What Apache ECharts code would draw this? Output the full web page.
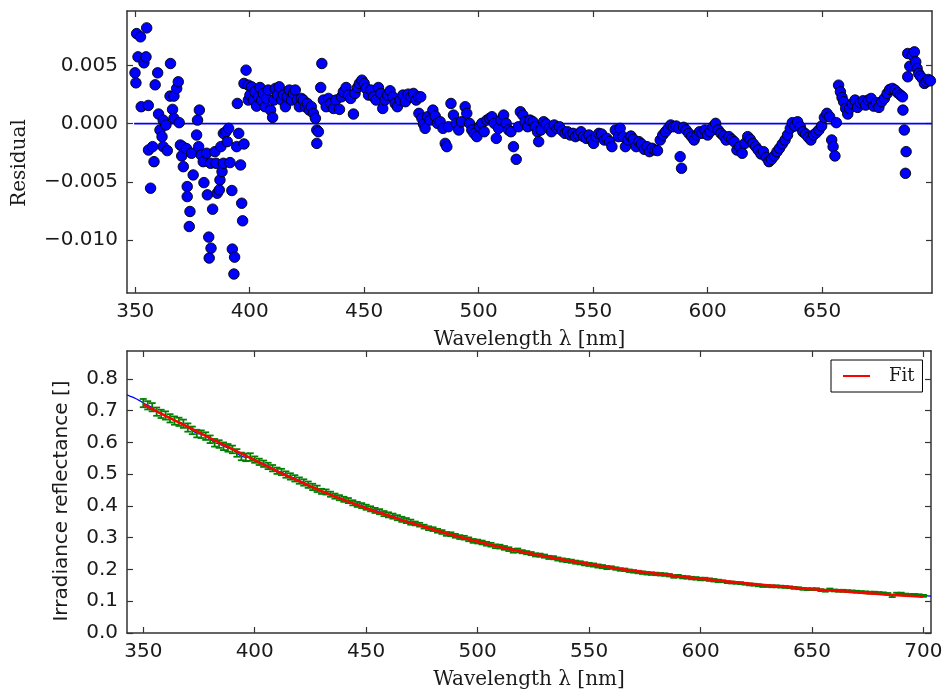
<!DOCTYPE html>
<html>
<head>
<meta charset="utf-8">
<script src="https://cdn.jsdelivr.net/npm/echarts@6/dist/echarts.min.js"></script>
<style>
html, body { margin: 0; padding: 0; background: #fff; }
#chart { width: 946px; height: 692px; }
</style>
</head>
<body>
<div id="chart"></div>
<script>
// top panel: residual of the fit, [wavelength nm, residual]
const residuals = [
    [349.9, 0.00437], [350.3, 0.00351], [350.6, 0.00774], [351.2, 0.00574], [352.3, 0.00746], [352.6, 0.00146],
    [353.8, 0.00523], [354.7, 0.00574], [355.0, 0.00823], [355.7, 0.00157], [355.8, -0.00226], [356.7, -0.00554],
    [357.6, -0.00197], [358.2, -0.00326], [358.7, 0.00334], [359.8, 0.00437], [360.2, 0.00083], [360.8, -0.00054],
    [361.7, -0.00111], [362.2, -0.00197], [362.2, 0.00031], [363.4, -0.00011], [364.0, -0.00231], [365.2, 0.00237],
    [365.4, 0.00517], [366.3, 0.00123], [366.9, 0.00237], [366.9, 0.00046], [368.1, 0.00303], [368.8, 0.0036],
    [369.2, 0.00009], [369.7, -0.00183], [370.3, -0.00277], [370.7, -0.00197], [371.0, -0.00369], [372.4, -0.00214],
    [372.7, -0.0054], [372.7, -0.00626], [373.6, -0.00883], [373.9, -0.00754], [374.6, -0.00254], [375.3, -0.0044],
    [376.8, -0.00097], [377.2, 0.00031], [377.7, -0.00197], [378.0, 0.00117], [378.8, -0.00269], [379.7, -0.00326],
    [380.0, -0.00506], [381.2, -0.00254], [381.5, -0.00611], [382.1, -0.00974], [382.3, -0.01154], [382.9, -0.0034],
    [383.1, -0.01069], [383.8, -0.00734], [384.8, -0.0024], [385.3, -0.0034], [385.8, -0.00597], [386.7, -0.00569],
    [387.0, -0.00483], [387.4, -0.00197], [387.9, -0.00411], [388.5, -0.0034], [388.5, -0.00083], [389.6, -0.00069],
    [390.2, -0.00154], [390.8, -0.0004], [391.4, -0.00334], [392.2, -0.00574], [392.4, -0.01077], [393.1, -0.01291],
    [393.4, -0.01146], [394.3, -0.00197], [394.6, 0.00174], [395.2, -0.00083], [396.0, -0.00354], [396.5, -0.00683],
    [396.9, -0.00834], [397.5, -0.00174], [397.5, 0.00346], [398.4, 0.0046], [399.4, 0.00331], [399.4, 0.00203],
    [400.1, 0.00246], [400.8, 0.00317], [401.6, 0.00203], [402.3, 0.00274], [403.0, 0.00151], [403.8, 0.00231],
    [404.5, 0.00311], [405.2, 0.00203], [406.0, 0.0026], [406.7, 0.00146], [407.4, 0.00217], [408.1, 0.00289],
    [409.1, 0.00117], [410.0, 0.00054], [410.6, 0.00203], [411.2, 0.00303], [412.1, 0.00246], [412.9, 0.00317],
    [414.0, 0.00203], [414.7, 0.00246], [415.6, 0.00146], [416.4, 0.00231], [417.3, 0.00289], [418.3, 0.00203],
    [419.1, 0.0026], [419.9, 0.00289], [420.8, 0.00203], [421.7, 0.00146], [422.6, 0.00217], [423.4, 0.00203],
    [424.3, 0.00146], [425.2, 0.00174], [426.0, 0.00117], [426.9, 0.00146], [427.8, 0.00089], [428.7, 0.00046],
    [429.3, -0.00054], [429.3, -0.00169], [430.0, -0.00069], [431.0, 0.00311], [431.5, 0.00517], [432.2, 0.00203],
    [433.4, 0.00146], [434.4, 0.00217], [435.4, 0.00174], [436.6, 0.00131], [437.7, 0.00203], [439.2, 0.00123],
    [440.1, 0.00231], [440.9, 0.00274], [442.1, 0.00311], [443.1, 0.00246], [444.1, 0.00217], [445.3, 0.00083],
    [446.0, 0.0026], [447.1, 0.00311], [447.9, 0.00346], [449.0, 0.00374], [450.0, 0.00346], [450.8, 0.00303],
    [451.9, 0.00246], [452.9, 0.00289], [454.1, 0.00231], [455.2, 0.00203], [456.2, 0.00311], [457.3, 0.0026],
    [458.1, 0.00131], [459.1, 0.00203], [460.2, 0.00246], [461.3, 0.00283], [462.5, 0.00231], [463.5, 0.00174],
    [464.5, 0.00146], [465.7, 0.00203], [466.9, 0.00246], [468.0, 0.00189], [469.2, 0.00254], [470.4, 0.00231],
    [471.5, 0.0026], [472.7, 0.00203], [473.7, 0.00231], [474.7, 0.00231], [473.9, 0.00089], [475.2, 0.00046],
    [475.9, -0.00003], [476.6, -0.0004], [477.7, 0.0006], [478.8, 0.00031], [480.0, 0.00117], [481.0, 0.00066],
    [482.0, 0.00003], [483.2, 0.00017], [484.4, -0.0004], [485.4, -0.00169], [486.1, -0.00197], [486.8, -0.00026],
    [487.9, 0.00174], [489.0, 0.00074], [490.2, 0.00003], [491.3, -0.00054], [492.5, 0.00017], [494.1, 0.00146],
    [494.8, 0.00089], [496.0, 0.00003], [497.0, -0.00054], [498.0, -0.00083], [499.2, -0.00111], [500.4, -0.00026],
    [501.4, 0.00003], [502.4, -0.00069], [503.6, 0.00031], [504.8, 0.00046], [505.8, 0.0006], [506.8, 0.00003],
    [507.7, -0.00126], [508.7, -0.0004], [509.7, 0.00031], [510.9, 0.00074], [512.0, 0.00003], [513.1, -0.00054],
    [514.1, -0.00069], [515.2, -0.00197], [516.4, -0.00306], [517.4, -0.00026], [518.2, 0.00103], [519.3, 0.00074],
    [520.3, 0.00017], [521.4, -0.00026], [522.5, 0.00031], [523.7, 0.00017], [524.7, -0.00026], [525.7, -0.00069],
    [526.2, -0.00154], [527.2, -0.00054], [528.4, 0.00017], [529.5, -0.00003], [530.7, -0.0004], [531.8, -0.00069],
    [533.0, -0.00011], [534.2, -0.0004], [535.3, -0.00026], [536.5, -0.0006], [537.7, -0.00083], [538.8, -0.00069],
    [540.0, -0.00097], [541.2, -0.00083], [542.3, -0.00111], [543.5, -0.00097], [544.7, -0.00069], [545.8, -0.00111],
    [547.0, -0.00126], [548.2, -0.00097], [549.3, -0.0014], [550.2, -0.00169], [551.4, -0.00111], [552.5, -0.00083],
    [553.7, -0.00089], [554.9, -0.0014], [556.0, -0.00126], [557.2, -0.00154], [558.2, -0.00197], [559.7, -0.00054],
    [561.1, -0.00111], [561.8, -0.0004], [563.0, -0.00111], [564.1, -0.00197], [565.3, -0.0014], [566.5, -0.00106],
    [567.6, -0.00134], [568.8, -0.00197], [570.0, -0.00154], [571.1, -0.00174], [572.3, -0.0022], [573.5, -0.00197],
    [574.6, -0.0024], [575.8, -0.00211], [577.0, -0.00226], [578.1, -0.00231], [579.3, -0.0014], [580.4, -0.00097],
    [581.6, -0.00069], [582.8, -0.0004], [583.9, -0.00011], [585.1, -0.00026], [586.3, -0.0002], [587.4, -0.0004],
    [588.0, -0.00283], [588.6, -0.00383], [589.5, -0.00031], [590.6, -0.00054], [591.8, -0.00083], [593.0, -0.00111],
    [594.1, -0.0014], [595.3, -0.00097], [596.5, -0.00069], [597.6, -0.00083], [598.8, -0.00054], [600.0, -0.00097],
    [601.1, -0.00069], [602.3, -0.00026], [603.5, 0.00003], [604.6, -0.00054], [605.8, -0.00083], [607.0, -0.00106],
    [608.1, -0.0014], [609.3, -0.00111], [610.5, -0.00134], [611.6, -0.00154], [612.8, -0.00226], [614.0, -0.00197],
    [615.1, -0.00254], [616.3, -0.00169], [617.5, -0.00111], [618.6, -0.00134], [619.8, -0.00169], [621.0, -0.00197],
    [622.1, -0.00226], [623.3, -0.0026], [624.4, -0.0024], [625.6, -0.00289], [626.8, -0.00326], [627.9, -0.00306],
    [629.1, -0.00277], [630.3, -0.0024], [631.4, -0.00211], [632.6, -0.00174], [633.8, -0.0014], [634.9, -0.00097],
    [636.1, -0.0004], [637.0, 0.00009], [638.1, -0.0002], [639.3, 0.00017], [640.5, -0.00026], [641.6, -0.00069],
    [642.8, -0.00089], [644.0, -0.00117], [645.1, -0.0014], [646.3, -0.00097], [647.5, -0.00077], [648.6, -0.00054],
    [649.8, -0.0002], [651.0, 0.00054], [652.1, 0.00089], [653.3, 0.0006], [654.2, -0.0014], [654.8, -0.00197],
    [655.6, -0.00277], [656.2, 0.00009], [657.2, 0.00331], [658.0, 0.00274], [658.7, 0.00226], [659.4, 0.00189],
    [660.3, 0.00131], [661.2, 0.00083], [662.0, 0.00131], [663.2, 0.00169], [664.4, 0.00203], [665.5, 0.0014],
    [666.7, 0.0018], [667.9, 0.00197], [669.0, 0.0016], [670.2, 0.00203], [671.4, 0.00217], [672.5, 0.00151],
    [673.7, 0.0018], [674.8, 0.0014], [676.0, 0.00189], [677.2, 0.00217], [678.4, 0.0026], [679.5, 0.00294],
    [680.7, 0.00303], [681.8, 0.00289], [683.0, 0.00266], [684.2, 0.00246], [685.1, 0.00231], [685.3, 0.00117],
    [685.9, -0.00054], [686.7, -0.0024], [686.4, -0.00426], [687.4, 0.00603], [688.3, 0.00494], [687.4, 0.00403],
    [689.4, 0.00589], [690.3, 0.00617], [690.9, 0.00531], [691.5, 0.00474], [692.2, 0.00431], [692.9, 0.00409],
    [693.8, 0.00389], [694.7, 0.00346], [695.5, 0.0036], [696.4, 0.0038], [697.3, 0.00369]
];
const zeroLine = [[349.5, 0], [698, 0]];
const residualTicks = [-0.010, -0.005, 0.000, 0.005];
const topWlTicks = [350, 400, 450, 500, 550, 600, 650];

// bottom panel: measured irradiance reflectance, [wavelength, value, error]
const measured = [
    [350, 0.724, 0.013], [352, 0.717, 0.013], [354, 0.711, 0.013], [356, 0.697, 0.013], [358, 0.690, 0.013],
    [360, 0.685, 0.013], [362, 0.676, 0.013], [364, 0.669, 0.013], [366, 0.665, 0.013], [368, 0.659, 0.013],
    [370, 0.647, 0.013], [372, 0.638, 0.012], [374, 0.628, 0.012], [376, 0.626, 0.012], [378, 0.620, 0.012],
    [380, 0.610, 0.012], [382, 0.599, 0.012], [384, 0.595, 0.012], [386, 0.588, 0.012], [388, 0.583, 0.012],
    [390, 0.578, 0.012], [392, 0.567, 0.012], [394, 0.556, 0.012], [396, 0.553, 0.012], [398, 0.554, 0.012],
    [400, 0.546, 0.010], [402, 0.539, 0.010], [404, 0.533, 0.010], [406, 0.526, 0.010], [408, 0.519, 0.010],
    [410, 0.511, 0.010], [412, 0.507, 0.010], [414, 0.499, 0.010], [416, 0.493, 0.010], [418, 0.487, 0.010],
    [420, 0.480, 0.010], [422, 0.474, 0.010], [424, 0.467, 0.010], [426, 0.460, 0.010], [428, 0.454, 0.010],
    [430, 0.446, 0.008], [432, 0.444, 0.008], [434, 0.437, 0.008], [436, 0.431, 0.008], [438, 0.426, 0.008],
    [440, 0.421, 0.008], [442, 0.417, 0.008], [444, 0.410, 0.008], [446, 0.405, 0.008], [448, 0.401, 0.008],
    [450, 0.396, 0.008], [452, 0.391, 0.008], [454, 0.386, 0.008], [456, 0.382, 0.008], [458, 0.376, 0.008],
    [460, 0.372, 0.008], [462, 0.368, 0.008], [464, 0.363, 0.008], [466, 0.358, 0.008], [468, 0.354, 0.008],
    [470, 0.349, 0.008], [472, 0.345, 0.006], [474, 0.341, 0.006], [476, 0.335, 0.006], [478, 0.330, 0.006],
    [480, 0.327, 0.006], [482, 0.322, 0.006], [484, 0.318, 0.006], [486, 0.312, 0.006], [488, 0.311, 0.006],
    [490, 0.306, 0.006], [492, 0.302, 0.006], [494, 0.300, 0.006], [496, 0.295, 0.006], [498, 0.290, 0.006],
    [500, 0.288, 0.006], [502, 0.285, 0.006], [504, 0.281, 0.006], [506, 0.278, 0.006], [508, 0.273, 0.006],
    [510, 0.272, 0.006], [512, 0.268, 0.006], [514, 0.264, 0.006], [516, 0.259, 0.006], [518, 0.260, 0.006],
    [520, 0.256, 0.005], [522, 0.253, 0.005], [524, 0.250, 0.005], [526, 0.246, 0.005], [528, 0.245, 0.005],
    [530, 0.242, 0.005], [532, 0.238, 0.005], [534, 0.237, 0.005], [536, 0.233, 0.005], [538, 0.230, 0.005],
    [540, 0.228, 0.005], [542, 0.226, 0.005], [544, 0.223, 0.005], [546, 0.221, 0.005], [548, 0.218, 0.005],
    [550, 0.216, 0.005], [552, 0.214, 0.005], [554, 0.211, 0.005], [556, 0.209, 0.005], [558, 0.206, 0.005],
    [560, 0.206, 0.004], [562, 0.203, 0.004], [564, 0.200, 0.004], [566, 0.199, 0.004], [568, 0.196, 0.004],
    [570, 0.194, 0.004], [572, 0.192, 0.004], [574, 0.190, 0.004], [576, 0.188, 0.004], [578, 0.187, 0.004],
    [580, 0.186, 0.004], [582, 0.185, 0.004], [584, 0.184, 0.004], [586, 0.182, 0.004], [588, 0.178, 0.004],
    [590, 0.179, 0.004], [592, 0.176, 0.004], [594, 0.175, 0.004], [596, 0.173, 0.004], [598, 0.172, 0.004],
    [600, 0.170, 0.004], [602, 0.170, 0.004], [604, 0.168, 0.004], [606, 0.166, 0.004], [608, 0.164, 0.004],
    [610, 0.163, 0.003], [612, 0.160, 0.003], [614, 0.159, 0.003], [616, 0.158, 0.003], [618, 0.157, 0.003],
    [620, 0.155, 0.003], [622, 0.153, 0.003], [624, 0.152, 0.003], [626, 0.150, 0.003], [628, 0.148, 0.003],
    [630, 0.148, 0.003], [632, 0.147, 0.003], [634, 0.147, 0.003], [636, 0.146, 0.003], [638, 0.145, 0.003],
    [640, 0.144, 0.003], [642, 0.142, 0.003], [644, 0.141, 0.003], [646, 0.139, 0.003], [648, 0.138, 0.003],
    [650, 0.138, 0.003], [652, 0.138, 0.003], [654, 0.135, 0.003], [656, 0.133, 0.003], [658, 0.137, 0.003],
    [660, 0.134, 0.003], [662, 0.133, 0.003], [664, 0.133, 0.003], [666, 0.132, 0.003], [668, 0.131, 0.003],
    [670, 0.130, 0.003], [672, 0.129, 0.003], [674, 0.128, 0.003], [676, 0.127, 0.003], [678, 0.127, 0.003],
    [680, 0.126, 0.003], [682, 0.125, 0.003], [684, 0.123, 0.003], [686, 0.116, 0.003], [688, 0.124, 0.003],
    [690, 0.124, 0.003], [692, 0.121, 0.003], [694, 0.120, 0.003], [696, 0.120, 0.003], [698, 0.119, 0.003],
    [700, 0.117, 0.003]
];
// measured curve beyond the error bars at both ends
const measuredLeft = [[342.7, 0.750], [344, 0.746], [345.5, 0.742], [347, 0.737], [348.5, 0.731]];
const measuredRight = [[702, 0.117], [703.4, 0.116]];
const fit = [
    [350, 0.720], [360, 0.684], [370, 0.649], [380, 0.614], [390, 0.579], [400, 0.544], [410, 0.510],
    [420, 0.478], [430, 0.447], [440, 0.419], [450, 0.393], [460, 0.370], [470, 0.347], [480, 0.326],
    [490, 0.306], [500, 0.288], [510, 0.271], [520, 0.256], [530, 0.242], [540, 0.229], [550, 0.217],
    [560, 0.206], [570, 0.196], [580, 0.187], [590, 0.179], [600, 0.171], [610, 0.164], [620, 0.157],
    [630, 0.150], [640, 0.144], [650, 0.138], [660, 0.133], [670, 0.128], [680, 0.123], [690, 0.118],
    [700, 0.114]
];
const reflTicks = [0, 0.1, 0.2, 0.3, 0.4, 0.5, 0.6, 0.7, 0.8];
const bottomWlTicks = [350, 400, 450, 500, 550, 600, 650, 700];

const frameColor = '#333';
const textColor = '#1a1a1a';

function frameAxis(grid, position, min, max, ticks, showLabel, formatter) {
    return {
        type: 'value', gridIndex: grid, position: position, min: min, max: max,
        axisLine: { show: true, onZero: false, lineStyle: { color: frameColor, width: 1.5 } },
        axisTick: { show: true, inside: true, length: 6, customValues: ticks,
            lineStyle: { color: frameColor, width: 1.2 } },
        axisLabel: { show: showLabel, customValues: ticks, margin: 9, color: textColor,
            fontFamily: 'DejaVu Sans', fontSize: 20, formatter: formatter },
        splitLine: { show: false }
    };
}

const wlName = {
    name: 'Wavelength \u03bb [nm]', nameLocation: 'middle', nameGap: 37,
    nameTextStyle: { fontFamily: 'DejaVu Serif', fontSize: 20, color: textColor }
};

const resFmt = v => (v < 0 ? '\u2212' : '') + Math.abs(v).toFixed(3);
const reflFmt = v => v.toFixed(1);

// vertical error bar with caps, green like the matplotlib 'g'
function renderErrorBar(params, api) {
    const x = api.value(0), y = api.value(1), e = api.value(2);
    const hi = api.coord([x, y + e]);
    const lo = api.coord([x, y - e]);
    const w = 3.5;
    const style = { stroke: '#008000', lineWidth: 1.8 };
    return {
        type: 'group',
        children: [
            { type: 'line', shape: { x1: hi[0], y1: hi[1], x2: lo[0], y2: lo[1] }, style: style },
            { type: 'line', shape: { x1: hi[0] - w, y1: hi[1], x2: hi[0] + w, y2: hi[1] }, style: style },
            { type: 'line', shape: { x1: lo[0] - w, y1: lo[1], x2: lo[0] + w, y2: lo[1] }, style: style }
        ]
    };
}

const chart = echarts.init(document.getElementById('chart'), null, { renderer: 'canvas' });

const option = {
    animation: false,
    backgroundColor: '#fff',
    grid: [
        { left: 127, top: 11, width: 805, height: 282, outerBoundsMode: 'none' },
        { left: 127, top: 351, width: 804, height: 282, outerBoundsMode: 'none' }
    ],
    xAxis: [
        Object.assign(frameAxis(0, 'bottom', 346.4, 698, topWlTicks, true), wlName),
        frameAxis(0, 'top', 346.4, 698, topWlTicks, false),
        Object.assign(frameAxis(1, 'bottom', 342.7, 703.4, bottomWlTicks, true), wlName),
        frameAxis(1, 'top', 342.7, 703.4, bottomWlTicks, false)
    ],
    yAxis: [
        frameAxis(0, 'left', -0.01454, 0.00968, residualTicks, true, resFmt),
        frameAxis(0, 'right', -0.01454, 0.00968, residualTicks, false),
        frameAxis(1, 'left', 0, 0.888, reflTicks, true, reflFmt),
        frameAxis(1, 'right', 0, 0.888, reflTicks, false)
    ],
    legend: {
        data: ['Fit'], left: 831, top: 360, orient: 'vertical',
        padding: [7, 8, 7, 12], itemWidth: 27, itemHeight: 2, icon: 'rect',
        borderColor: '#000', borderWidth: 1, selectedMode: false,
        textStyle: { fontFamily: 'DejaVu Serif', fontSize: 18, color: textColor, padding: [0, 0, 0, 14] }
    },
    graphic: [
        { type: 'text', x: 20, y: 163, rotation: Math.PI / 2,
          style: { text: 'Residual', font: '20px "DejaVu Serif"', fill: textColor, align: 'center', verticalAlign: 'middle' } },
        { type: 'text', x: 62, y: 501, rotation: Math.PI / 2,
          style: { text: 'Irradiance reflectance []', font: '20px "DejaVu Sans"', fill: textColor, align: 'center', verticalAlign: 'middle' } }
    ],
    series: [
        {
            type: 'line', xAxisIndex: 0, yAxisIndex: 0, data: zeroLine, showSymbol: false, silent: true,
            lineStyle: { color: '#0000ff', width: 1.8 }, z: 1
        },
        {
            type: 'scatter', xAxisIndex: 0, yAxisIndex: 0, data: residuals, symbolSize: 10.5,
            itemStyle: { color: '#0000ff', borderColor: '#000', borderWidth: 0.9, opacity: 1 }, z: 2
        },
        {
            type: 'line', xAxisIndex: 2, yAxisIndex: 2, showSymbol: false, silent: true,
            data: measuredLeft.concat(measured.map(m => [m[0], m[1]]), measuredRight),
            lineStyle: { color: '#0000ff', width: 1.2 }, z: 1
        },
        {
            type: 'custom', xAxisIndex: 2, yAxisIndex: 2, data: measured, renderItem: renderErrorBar,
            encode: { x: 0, y: 1 }, silent: true, z: 2
        },
        {
            name: 'Fit', type: 'line', xAxisIndex: 2, yAxisIndex: 2, data: fit, smooth: 0.3,
            showSymbol: false, silent: true, color: '#ff0000',
            lineStyle: { color: '#ff0000', width: 2.5 }, z: 3
        }
    ]
};

chart.setOption(option);
window.addEventListener('resize', chart.resize);
</script>
</body>
</html>
